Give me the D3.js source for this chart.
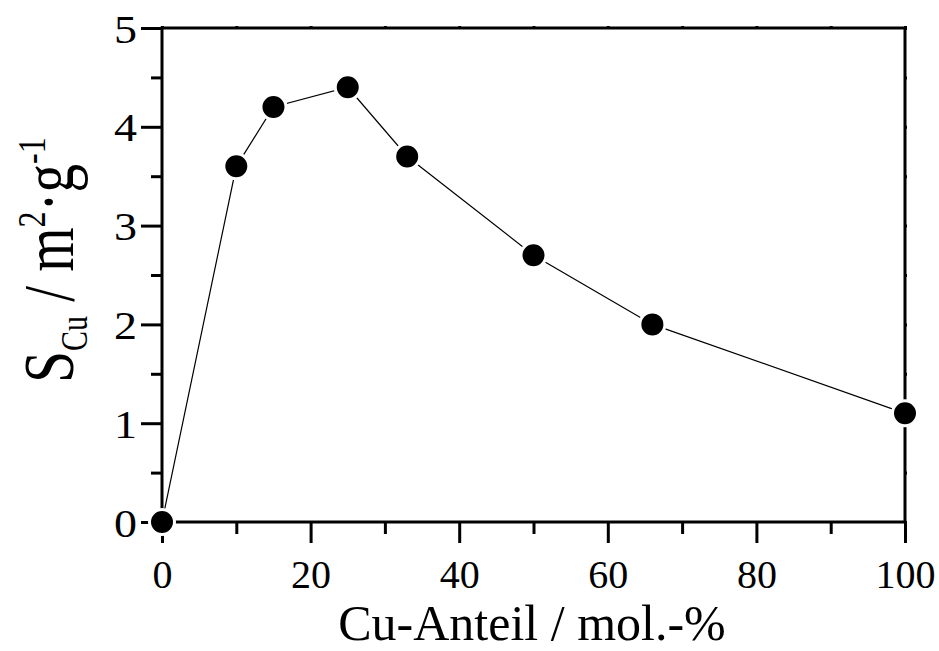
<!DOCTYPE html>
<html>
<head>
<meta charset="utf-8">
<script src="https://cdn.jsdelivr.net/npm/d3@7"></script>
<style>
  html, body { margin: 0; padding: 0; background: #fff; }
  svg { display: block; }
  text { font-family: "Liberation Serif", "Times New Roman", serif; fill: #000; }
</style>
</head>
<body>
<svg id="chart" width="939" height="651"></svg>
<script>
const cuShare = [0, 10, 15, 25, 33, 50, 66, 100];
const sCu = [0, 3.6, 4.2, 4.4, 3.7, 2.7, 2.0, 1.1];
const xMajorTicks = [0, 20, 40, 60, 80, 100];
const xMinorTicks = [10, 30, 50, 70, 90];
const yMajorTicks = [0, 1, 2, 3, 4, 5];
const yMinorTicks = [0.5, 1.5, 2.5, 3.5, 4.5];
const xTitle = "Cu-Anteil / mol.-%";

(function () {
const svg = d3.select("#chart");
const x = d3.scaleLinear().domain([0, 100]).range([162, 905]);
const y = d3.scaleLinear().domain([0, 5]).range([522, 28]);

const axisStroke = 3;

// bottom axis
const bottomG = svg.append("g").attr("transform", `translate(0,${y(0)})`);
bottomG.call(d3.axisBottom(x).tickValues(xMajorTicks).tickSize(21).tickSizeOuter(0).tickFormat(d3.format("d")));
bottomG.append("g").call(d3.axisBottom(x).tickValues(xMinorTicks).tickSize(12).tickSizeOuter(0).tickFormat(""));
// left axis
const leftG = svg.append("g").attr("transform", `translate(${x(0)},0)`);
leftG.call(d3.axisLeft(y).tickValues(yMajorTicks).tickSize(21).tickSizeOuter(0).tickFormat(d3.format("d")));
leftG.append("g").call(d3.axisLeft(y).tickValues(yMinorTicks).tickSize(11).tickSizeOuter(0).tickFormat(""));
// top & right tiny ticks
const topG = svg.append("g").attr("transform", `translate(0,${y(5)})`);
topG.call(d3.axisTop(x).tickValues(xMajorTicks.concat(xMinorTicks)).tickSize(2).tickSizeOuter(0).tickFormat(""));
const rightG = svg.append("g").attr("transform", `translate(${x(100)},0)`);
rightG.call(d3.axisRight(y).tickValues(yMajorTicks.concat(yMinorTicks)).tickSize(2).tickSizeOuter(0).tickFormat(""));

svg.selectAll(".domain").remove();
svg.selectAll(".tick line").attr("stroke", "#000").attr("stroke-width", axisStroke);

// frame
svg.append("rect")
  .attr("x", x(0)).attr("y", y(5))
  .attr("width", x(100) - x(0)).attr("height", y(0) - y(5))
  .attr("fill", "none").attr("stroke", "#000").attr("stroke-width", axisStroke);

// tick labels
bottomG.selectAll(".tick text")
  .attr("font-size", 40).attr("font-family", "Liberation Serif")
  .attr("y", 0).attr("dy", 0)
  .attr("transform", "translate(0,66)");
leftG.selectAll(".tick text")
  .attr("font-size", 40).attr("font-family", "Liberation Serif")
  .attr("x", 0).attr("dy", "0.35em")
  .attr("transform", "translate(-25,0) scale(1.15,1)");

// line
const line = d3.line().x((d, i) => x(cuShare[i])).y(d => y(d));
svg.append("path")
  .datum(sCu)
  .attr("d", line)
  .attr("fill", "none").attr("stroke", "#000").attr("stroke-width", 1.2);

// markers
svg.append("g").selectAll("circle")
  .data(sCu)
  .join("circle")
  .attr("cx", (d, i) => x(cuShare[i]))
  .attr("cy", d => y(d))
  .attr("r", 12.5)
  .attr("fill", "#000")
  .attr("stroke", "#fff")
  .attr("stroke-width", 3);

// x title
svg.append("text")
  .attr("x", 532).attr("y", 640)
  .attr("text-anchor", "middle")
  .attr("font-size", 50)
  .text(xTitle);

// y title
const yt = svg.append("text")
  .attr("text-anchor", "middle")
  .attr("font-size", 57)
  .attr("transform", "translate(73,260) scale(1.27,1) rotate(-90)");
yt.append("tspan").text("S");
yt.append("tspan").attr("font-size", 30).attr("dy", 11).text("Cu");
yt.append("tspan").attr("dy", -11).text(" / m");
yt.append("tspan").attr("font-size", 32).attr("dy", -22).text("2");
yt.append("tspan").attr("dy", 22).text("·g");
yt.append("tspan").attr("font-size", 32).attr("dy", -22).text("-1");
})();
</script>
</body>
</html>
